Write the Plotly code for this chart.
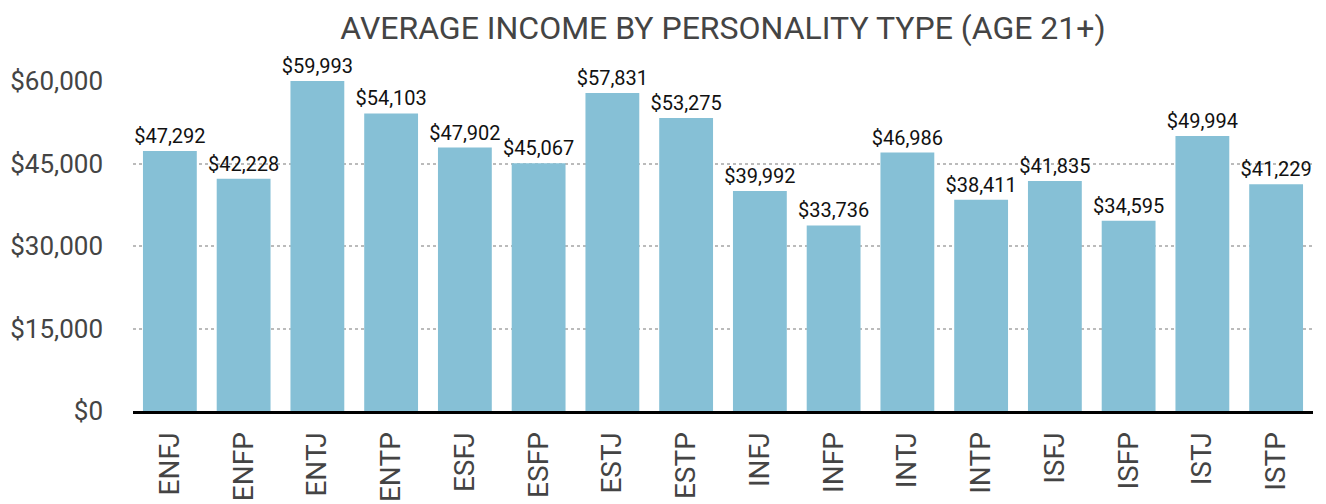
import plotly.graph_objects as go

types = ["ENFJ", "ENFP", "ENTJ", "ENTP", "ESFJ", "ESFP", "ESTJ", "ESTP",
         "INFJ", "INFP", "INTJ", "INTP", "ISFJ", "ISFP", "ISTJ", "ISTP"]
income = [47292, 42228, 59993, 54103, 47902, 45067, 57831, 53275,
          39992, 33736, 46986, 38411, 41835, 34595, 49994, 41229]
y_ticks = [0, 15000, 30000, 45000, 60000]
y_tick_labels = ["$0", "$15,000", "$30,000", "$45,000", "$60,000"]

fig = go.Figure(go.Bar(
    x=types, y=income,
    marker=dict(color="#86C0D6", line=dict(width=0)),
    text=[f"${v:,}" for v in income],
    textposition="outside",
    constraintext="none",
    textfont=dict(family="Roboto", size=20, color="#111111"),
    cliponaxis=False,
    hoverinfo="skip",
))

fig.update_layout(
    width=1326, height=504,
    margin=dict(l=133, r=13, t=81, b=93, autoexpand=False),
    paper_bgcolor="white", plot_bgcolor="white",
    bargap=0.27,
    showlegend=False,
    title=dict(text="AVERAGE INCOME BY PERSONALITY TYPE (AGE 21+)",
               x=0.5, xref="paper", xanchor="center", y=0.945, yanchor="middle",
               font=dict(family="Roboto", size=32, color="#444444")),
    font=dict(family="Roboto"),
)
fig.update_xaxes(
    tickangle=-90, tickfont=dict(family="Roboto", size=28, color="#444444"),
    showgrid=False, showline=True, linecolor="black", linewidth=3,
    ticks="", ticklabelstandoff=7, automargin=False,
)
fig.update_yaxes(
    range=[0, 60000], tickvals=y_ticks, ticktext=y_tick_labels,
    tickfont=dict(family="Roboto", size=26, color="#444444"),
    showgrid=True, gridcolor="#BBBBBB", griddash="dot", gridwidth=2,
    zeroline=False, showline=False, ticks="", ticklabelstandoff=29,
    automargin=False,
)

fig.write_html("out.html",
               config={"displayModeBar": False},
               post_script="document.body.style.margin='0';")
